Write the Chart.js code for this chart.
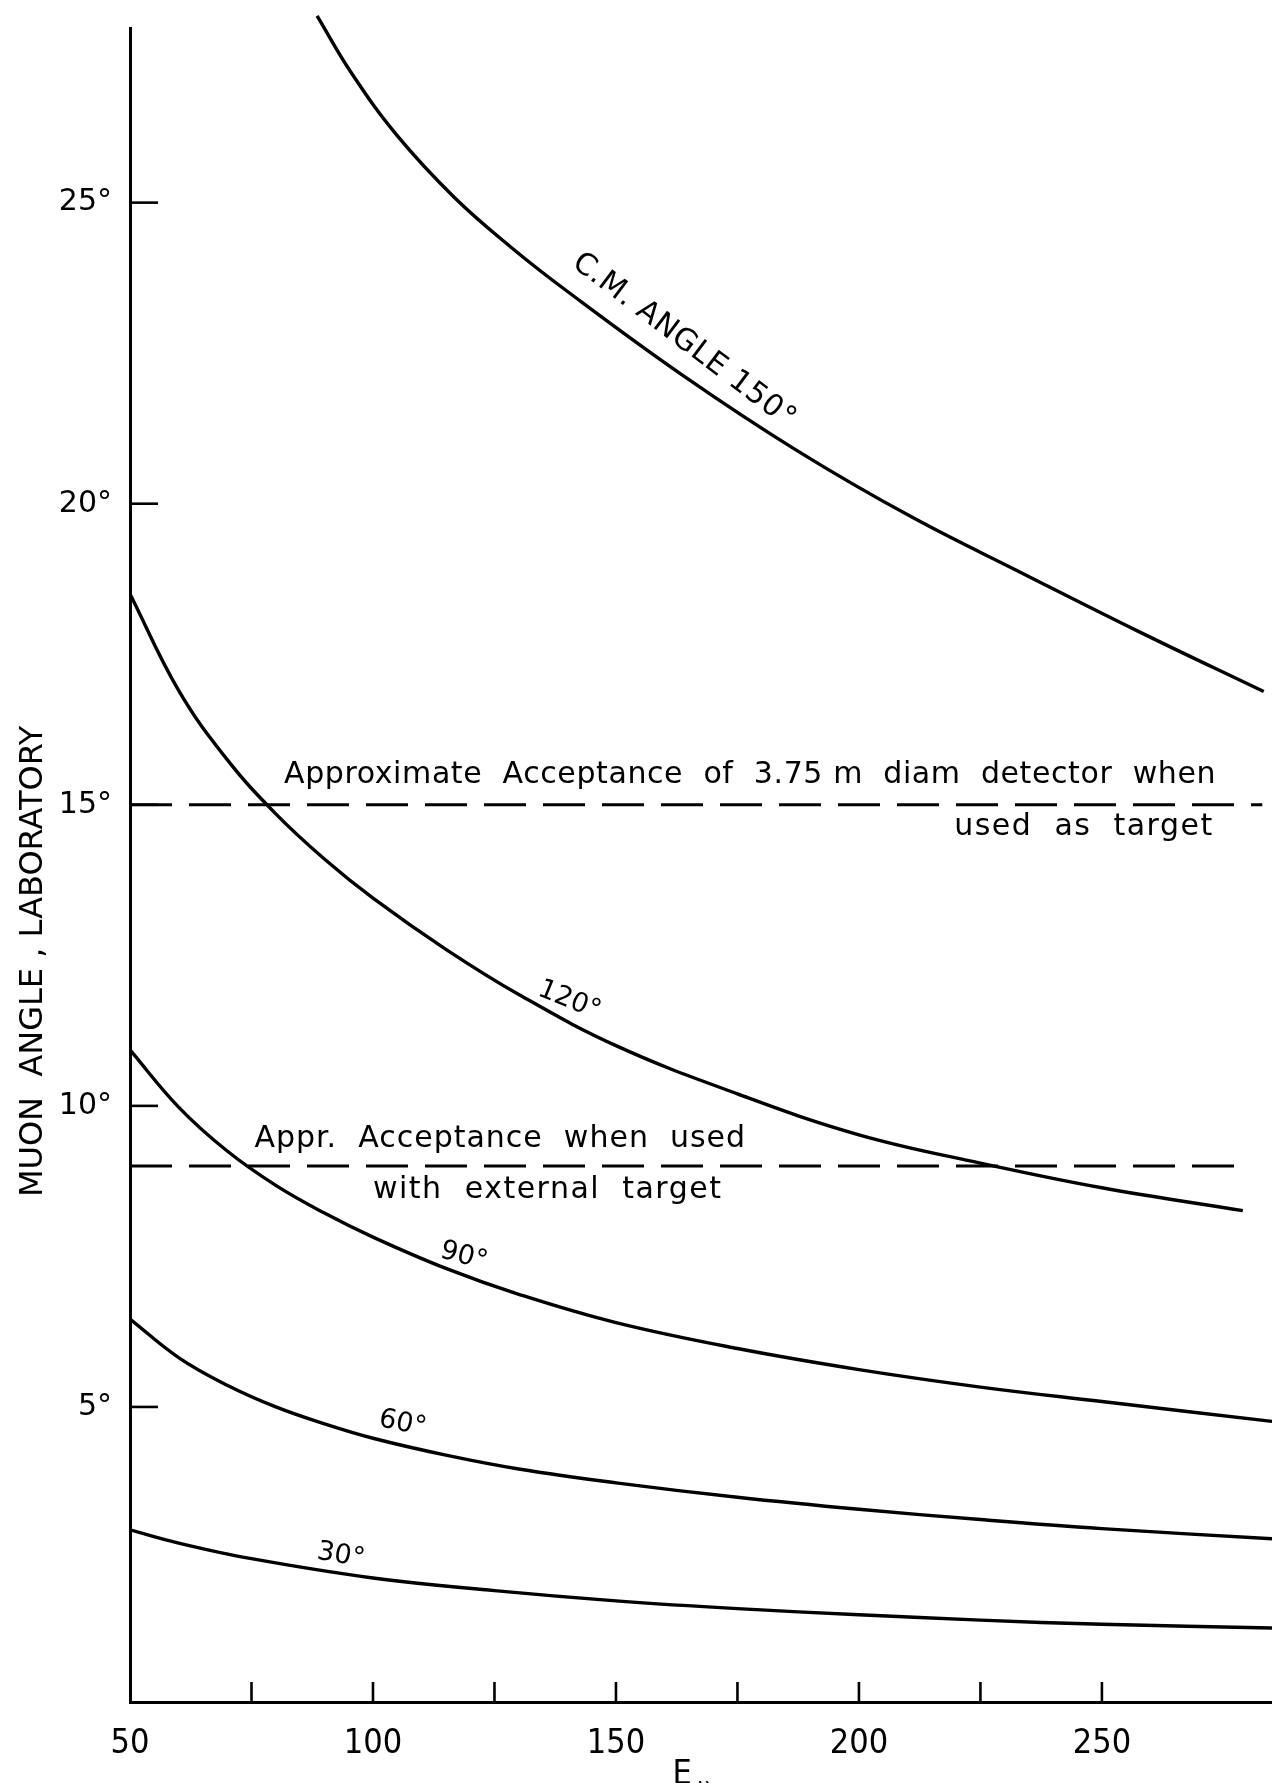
<!DOCTYPE html>
<html>
<head>
<meta charset="utf-8">
<script src="https://cdn.jsdelivr.net/npm/chart.js@4.4.1/dist/chart.umd.min.js"></script>
<style>
  html, body { margin: 0; padding: 0; background: #fff; }
  #wrap { width: 1272px; height: 1783px; }
</style>
</head>
<body>
<div id="wrap"><canvas id="muonChart"></canvas></div>
<script>
// E_nu (x) against lab muon angle in degrees, one pair of arrays per C.M. angle
const energy150 = [88.5, 95.5, 104.9, 116.7, 128.4, 140.1, 163.6, 187.1, 210.6, 234, 257.5, 283.3];
const angle150 = [28.1, 27.16, 26.12, 25.09, 24.26, 23.52, 22.14, 20.89, 19.79, 18.83, 17.88, 16.88];

const energy120 = [50, 60, 70, 80, 90, 100, 115, 130, 150, 175, 200, 225, 250, 279];
const angle120 = [18.5, 16.9, 15.75, 14.85, 14.1, 13.45, 12.6, 11.85, 11.0, 10.2, 9.52, 9.05, 8.64, 8.26];

const energy90 = [50, 60, 70, 80, 90, 100, 115, 130, 150, 175, 200, 225, 250, 285];
const angle90 = [10.93, 9.98, 9.25, 8.68, 8.22, 7.82, 7.3, 6.87, 6.4, 5.97, 5.62, 5.33, 5.09, 4.76];

const energy60 = [50, 60, 70, 80, 90, 100, 115, 130, 150, 175, 200, 225, 250, 285];
const angle60 = [6.46, 5.82, 5.36, 5.0, 4.72, 4.48, 4.2, 3.97, 3.74, 3.5, 3.3, 3.13, 2.98, 2.81];

const energy30 = [50, 60, 75, 100, 125, 150, 175, 200, 225, 250, 285];
const angle30 = [2.96, 2.74, 2.48, 2.16, 1.95, 1.78, 1.65, 1.55, 1.46, 1.39, 1.33];

// acceptance limits (dashed)
const accDetE = [50, 283];
const accDetA = [15, 15];
const accExtE = [50, 278.2];
const accExtA = [9, 9];

// axes
const xTickLabels = [50, 100, 150, 200, 250];
const xTickMarks = [75, 100, 125, 150, 175, 200, 225, 250];
const yTickLabels = [5, 10, 15, 20, 25];

const pts = (xs, ys) => xs.map((x, i) => ({ x: x, y: ys[i] }));

function curve(xs, ys, extra) {
    return Object.assign({
        data: pts(xs, ys),
        borderColor: '#000',
        borderWidth: 3.4,
        pointRadius: 0,
        fill: false,
        tension: 0.4
    }, extra || {});
}

// text written on the plot, placed in data units
const notes = [
    { text: 'C.M. ANGLE 150°', e: 164, a: 22.7, rot: 37, font: '30px "DejaVu Sans"', align: 'center', spacing: '0.8px' },
    { text: '120°', e: 140.4, a: 11.75, rot: 22, font: '27px "DejaVu Sans"', align: 'center' },
    { text: '90°', e: 118.7, a: 7.5, rot: 15, font: '27px "DejaVu Sans"', align: 'center' },
    { text: '60°', e: 106.1, a: 4.72, rot: 12, font: '27px "DejaVu Sans"', align: 'center' },
    { text: '30°', e: 93.4, a: 2.53, rot: 10, font: '27px "DejaVu Sans"', align: 'center' },
    { text: 'Approximate  Acceptance  of  3.75 m  diam  detector  when', e: 81.7, a: 15.49, rot: 0, font: '30px "DejaVu Sans"', align: 'left', spacing: '0.6px' },
    { text: 'used  as  target', e: 273, a: 14.62, rot: 0, font: '30px "DejaVu Sans"', align: 'right', spacing: '1.5px' },
    { text: 'Appr.  Acceptance  when  used', e: 75.6, a: 9.45, rot: 0, font: '30px "DejaVu Sans"', align: 'left', spacing: '1px' },
    { text: 'with  external  target', e: 100, a: 8.6, rot: 0, font: '30px "DejaVu Sans"', align: 'left', spacing: '1.5px' }
];

const decorations = {
    id: 'decorations',
    afterDatasetsDraw(chart) {
        const ctx = chart.ctx;
        const x = chart.scales.x;
        const y = chart.scales.y;
        const area = chart.chartArea;
        ctx.save();
        ctx.strokeStyle = '#000';
        ctx.fillStyle = '#000';
        ctx.lineWidth = 2.6;

        // tick marks point inward, like the original
        yTickLabels.forEach(v => {
            const py = y.getPixelForValue(v);
            ctx.beginPath();
            ctx.moveTo(area.left, py);
            ctx.lineTo(area.left + 28, py);
            ctx.stroke();
        });
        xTickMarks.forEach(v => {
            const px = x.getPixelForValue(v);
            ctx.beginPath();
            ctx.moveTo(px, area.bottom);
            ctx.lineTo(px, area.bottom - 20);
            ctx.stroke();
        });

        notes.forEach(n => {
            ctx.save();
            ctx.translate(x.getPixelForValue(n.e), y.getPixelForValue(n.a));
            ctx.rotate(n.rot * Math.PI / 180);
            ctx.font = n.font;
            ctx.letterSpacing = n.spacing || '0px';
            ctx.textAlign = n.align;
            ctx.textBaseline = 'middle';
            ctx.fillText(n.text, 0, 0);
            ctx.restore();
        });

        // y title
        ctx.save();
        ctx.translate(34, y.getPixelForValue(12.4));
        ctx.rotate(-Math.PI / 2);
        ctx.font = '32px "DejaVu Sans"';
        ctx.textAlign = 'center';
        ctx.textBaseline = 'middle';
        ctx.fillText('MUON  ANGLE , LABORATORY', 0, 0);
        ctx.restore();

        // x title, cut by the bottom edge as in the scan
        const ex = x.getPixelForValue(163.6);
        ctx.font = '34px "Liberation Sans Narrow", "DejaVu Sans Condensed", sans-serif';
        ctx.textAlign = 'center';
        ctx.textBaseline = 'alphabetic';
        ctx.fillText('E', ex, chart.height + 1);
        ctx.font = '22px "DejaVu Sans"';
        ctx.fillText('ν', ex + 22, chart.height + 10);
        ctx.restore();
    }
};

new Chart(document.getElementById('muonChart'), {
    type: 'line',
    data: {
        datasets: [
            curve(energy150, angle150, { clip: { left: 0, top: 16, right: 0, bottom: 0 } }),
            curve(energy120, angle120),
            curve(energy90, angle90),
            curve(energy60, angle60),
            curve(energy30, angle30),
            curve(accDetE, accDetA, { borderDash: [42, 17], borderWidth: 3, tension: 0 }),
            curve(accExtE, accExtA, { borderDash: [42, 17], borderWidth: 3, tension: 0 })
        ]
    },
    options: {
        animation: false,
        responsive: true,
        maintainAspectRatio: false,
        layout: { padding: { top: 19, left: 0, right: 0, bottom: 0 } },
        plugins: {
            legend: { display: false },
            tooltip: { enabled: false }
        },
        scales: {
            x: {
                type: 'linear',
                min: 50,
                max: 285,
                afterBuildTicks: s => { s.ticks = xTickLabels.map(v => ({ value: v })); },
                afterFit: s => { s.height = 81; },
                grid: { display: false },
                border: { color: '#000', width: 3 },
                ticks: {
                    color: '#000',
                    padding: 14,
                    maxRotation: 0,
                    font: { family: '"Liberation Sans Narrow", "DejaVu Sans Condensed", sans-serif', size: 34 },
                    callback: v => String(v)
                }
            },
            y: {
                type: 'linear',
                min: 0.1,
                max: 27.9,
                afterBuildTicks: s => { s.ticks = yTickLabels.map(v => ({ value: v })); },
                afterFit: s => { s.width = 130; },
                grid: { display: false },
                border: { color: '#000', width: 3 },
                ticks: {
                    color: '#000',
                    padding: 10,
                    font: { family: '"DejaVu Sans"', size: 30 },
                    callback: v => v + '°'
                }
            }
        }
    },
    plugins: [decorations]
});
</script>
</body>
</html>
